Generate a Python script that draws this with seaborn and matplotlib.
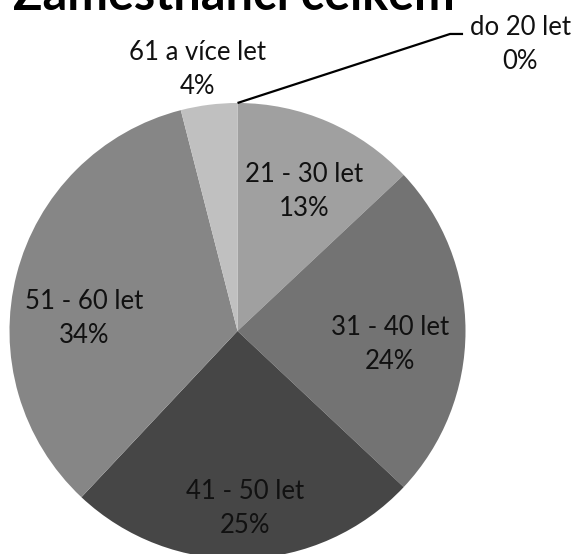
import numpy as np
import matplotlib
matplotlib.use("Agg")
import matplotlib.pyplot as plt
import seaborn as sns

# data
title = "Zaměstnanci celkem"
age_groups = ["do 20 let", "21 - 30 let", "31 - 40 let", "41 - 50 let", "51 - 60 let", "61 a více let"]
shares = [0, 13, 24, 25, 34, 4]
greys = ["#5a5a5a", "#a0a0a0", "#737373", "#464646", "#868686", "#c0c0c0"]

# label layout: radial distance (in radii) and angle nudge (deg) per slice
label_dist = [1.765, 0.68, 0.67, 0.78, 0.675, 1.16]
label_nudge = [-44.6, -2.2, -4.9, 0.6, 9.7, 1.4]

sns.set_theme(style="white")
plt.rcParams["font.family"] = ["Lato", "DejaVu Sans"]

W, H = 578, 554
fig = plt.figure(figsize=(W / 100, H / 100), dpi=100)
ax = fig.add_axes([0, 0, 1, 1])

cx, cy, R = 237.5, H - 331, 228
wedges, _ = ax.pie(shares, colors=greys, startangle=90, counterclock=False,
                   center=(cx, cy), radius=R,
                   wedgeprops=dict(linewidth=0))
ax.set_xlim(0, W)
ax.set_ylim(0, H)
ax.set_aspect("equal")
ax.axis("off")

for w, name, val, d, nudge in zip(wedges, age_groups, shares, label_dist, label_nudge):
    mid = np.deg2rad((w.theta1 + w.theta2) / 2 + nudge)
    tx = cx + d * R * np.cos(mid)
    ty = cy + d * R * np.sin(mid)
    ax.text(tx, ty, f"{name}\n{val:.0f}%", ha="center", va="center",
            fontsize=18.5, color="#111111", linespacing=1.45)
    if d > 1.5:
        # leader line from the slice edge to the outside label
        edge = np.deg2rad(w.theta1)
        sx, sy = cx + R * np.cos(edge), cy + R * np.sin(edge)
        ax.plot([sx, tx - 70, tx - 57], [sy, ty + 10.5, ty + 10.5],
                color="black", linewidth=1.6, solid_capstyle="butt")

# the title sits partly above the top edge, as in the original export
ax.text(234, H - 9.5, title, ha="center", va="baseline",
        fontsize=35, fontweight="bold", color="black")

fig.savefig("out.png", dpi=100)
